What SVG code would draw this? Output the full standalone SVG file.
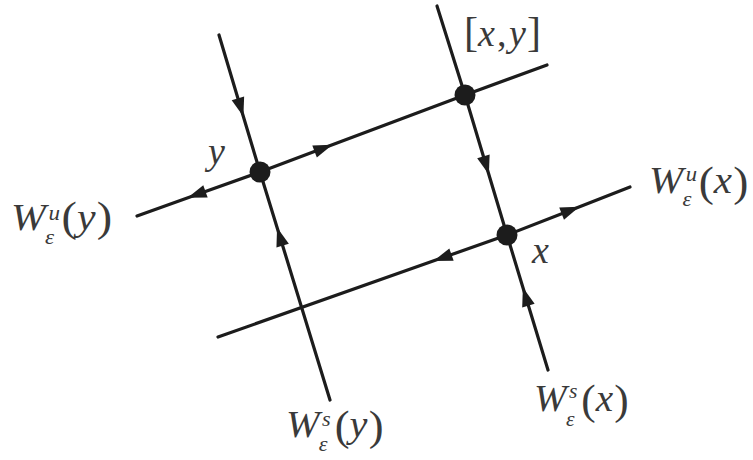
<svg xmlns="http://www.w3.org/2000/svg" width="753" height="460" viewBox="0 0 753 460">
<style>
.ln{fill:none;stroke:#1c1c1c;stroke-width:3.2;stroke-linecap:round}
.ar{marker-mid:url(#arr)}
.dot{fill:#1c1c1c}
.t{font-family:"Liberation Serif","DejaVu Serif",serif;fill:#3a3a3a}
.i{font-style:italic}
.big{font-size:38px}
.par{font-size:42px}
.sm{font-size:21px}
</style>
<defs>
<marker id="arr" markerUnits="userSpaceOnUse" markerWidth="20" markerHeight="20" refX="0" refY="0" orient="auto" overflow="visible">
<path d="M10,0 L-9,-6.5 L-9,6.5 z" fill="#1c1c1c"/>
</marker>
</defs>
<rect width="753" height="460" fill="#fff"/>
<g id="connectors">
<path class="ln ar" d="M219,35 L240.5,107 L260,172"/>
<path class="ln ar" d="M330,400 L280,237 L260,172"/>
<path class="ln ar" d="M260,172 L197,194.5 L137,216"/>
<path class="ln ar" d="M260,172 L323,148.3 L465,95"/>
<path class="ln" d="M465,95 L547,65"/>
<path class="ln" d="M437,6 L465,95"/>
<path class="ln ar" d="M465,95 L486,165 L507,235"/>
<path class="ln ar" d="M548,370 L525.8,297 L507,235"/>
<path class="ln ar" d="M507,235 L570,210.4 L630,187"/>
<path class="ln ar" d="M507,235 L443,257.6 L218,337"/>
</g>
<g id="node-y">
<circle class="dot" cx="260" cy="172" r="10.5"/>
<text class="t i big" x="208" y="164">y</text>
</g>
<g id="node-xy">
<circle class="dot" cx="465" cy="95" r="10.5"/>
<g transform="translate(464,46)">
<text class="t par" x="0" y="0">[</text>
<text class="t i big" x="14" y="0">x</text>
<text class="t big" x="33" y="0">,</text>
<text class="t i big" x="45" y="0">y</text>
<text class="t par" x="63" y="0">]</text>
</g>
</g>
<g id="node-x">
<circle class="dot" cx="507" cy="235" r="10.5"/>
<text class="t i big" x="532" y="263">x</text>
</g>
<g id="label-Wu-y" transform="translate(11,230) scale(1.1,1)">
<text class="t i big" x="0" y="0">W</text>
<text class="t i sm" x="34" y="-10">u</text>
<text class="t i sm" x="31" y="14">ε</text>
<text class="t par" x="46" y="1">(</text>
<text class="t i big" x="60" y="0">y</text>
<text class="t par" x="78" y="1">)</text>
</g>
<g id="label-Wu-x" transform="translate(649,193) scale(1.08,1)">
<text class="t i big" x="0" y="0">W</text>
<text class="t i sm" x="34" y="-12">u</text>
<text class="t i sm" x="31" y="13">ε</text>
<text class="t par" x="46" y="3">(</text>
<text class="t i big" x="60" y="0">x</text>
<text class="t par" x="78" y="3">)</text>
</g>
<g id="label-Ws-y" transform="translate(286,437) scale(1.06,1)">
<text class="t i big" x="0" y="0">W</text>
<text class="t i sm" x="34" y="-11">s</text>
<text class="t i sm" x="31" y="14">ε</text>
<text class="t par" x="46" y="3">(</text>
<text class="t i big" x="60" y="0">y</text>
<text class="t par" x="78" y="3">)</text>
</g>
<g id="label-Ws-x" transform="translate(534,411) scale(1.03,1)">
<text class="t i big" x="0" y="0">W</text>
<text class="t i sm" x="34" y="-13">s</text>
<text class="t i sm" x="31" y="15">ε</text>
<text class="t par" x="46" y="3">(</text>
<text class="t i big" x="60" y="0">x</text>
<text class="t par" x="78" y="3">)</text>
</g>
</svg>
